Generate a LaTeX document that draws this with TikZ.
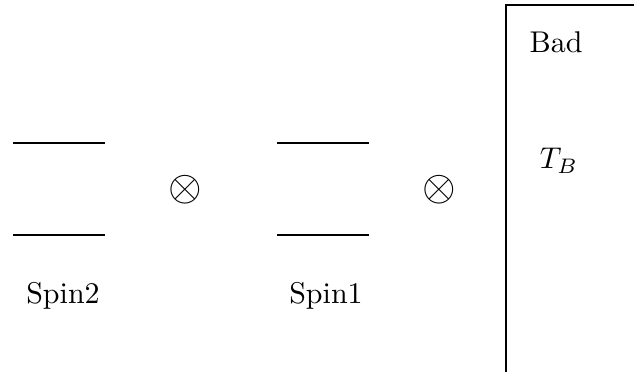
\documentclass[tikz,border=0pt]{standalone}
\begin{document}
\begin{tikzpicture}[x=0.3333pt,y=-0.3333pt,
  level/.style={line width=0.4pt},
  lbl/.style={inner sep=0pt},
  tens/.style={inner sep=0pt,font=\Large}]
\useasboundingbox (0,0) rectangle (634,372);
% spin 2 levels
\coordinate (s2ul) at (13,143); \coordinate (s2ur) at (105,143);
\coordinate (s2ll) at (13,235); \coordinate (s2lr) at (105,235);
\draw[level] (s2ul) -- (s2ur);
\draw[level] (s2ll) -- (s2lr);
% spin 1 levels
\coordinate (s1ul) at (277,143); \coordinate (s1ur) at (369,143);
\coordinate (s1ll) at (277,235); \coordinate (s1lr) at (369,235);
\draw[level] (s1ul) -- (s1ur);
\draw[level] (s1ll) -- (s1lr);
% tensor products
\node[tens] (ot1) at (185,190) {$\otimes$};
\node[tens] (ot2) at (439,190) {$\otimes$};
% labels
\node[lbl] (sp2) at (63,296) {Spin2};
\node[lbl] (sp1) at (326,296) {Spin1};
% bath box
\coordinate (bbl) at (506,380); \coordinate (btl) at (506,5); \coordinate (btr) at (640,5);
\draw[level] (bbl) -- (btl) -- (btr);
\node[lbl] (bad) at (556,42) {Bad};
\node[lbl] (tb) at (559,161) {$T_B$};
\end{tikzpicture}
\end{document}
